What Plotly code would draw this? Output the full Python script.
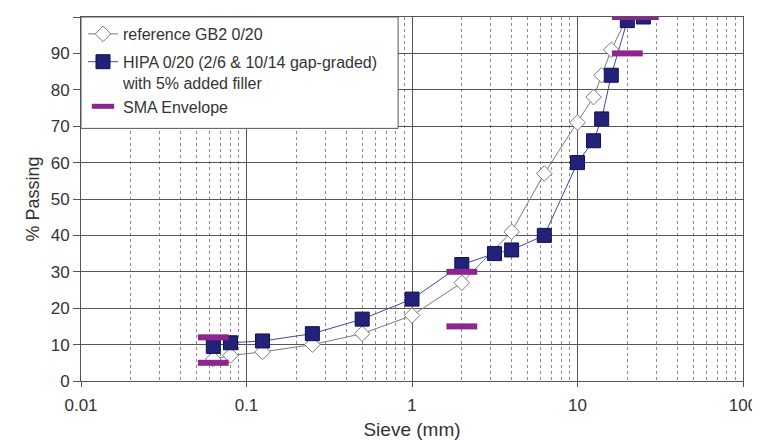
import plotly.graph_objects as go

# ---------------- data ----------------
ref_sieve = [0.063, 0.08, 0.125, 0.25, 0.5, 1, 2, 4, 6.3, 10, 12.5, 14, 16, 20]
ref_pass = [6, 7, 8, 10, 13, 18, 27, 41, 57, 71, 78, 84, 91, 100]

hipa_sieve = [0.063, 0.08, 0.125, 0.25, 0.5, 1, 2, 3.15, 4, 6.3, 10, 12.5, 14, 16, 20, 25]
hipa_pass = [9.5, 10.5, 11, 13, 17, 22.5, 32, 35, 36, 40, 60, 66, 72, 84, 99, 100]

env_sieve = [0.063, 0.063, 2, 2, 20, 20, 25]
env_pass = [5, 12, 15, 30, 90, 100, 100]

x_tickvals = [0.01, 0.1, 1, 10, 100]
x_ticktext = ["0.01", "0.1", "1", "10", "100"]
y_tickvals = [0, 10, 20, 30, 40, 50, 60, 70, 80, 90, 100]

# ---------------- figure ----------------
FONT = "Liberation Sans, Arial, sans-serif"
fig = go.Figure()

fig.add_trace(go.Scatter(
    x=ref_sieve, y=ref_pass, name="reference GB2 0/20",
    mode="lines+markers", legendgroup="a",
    line=dict(color="#7a7a7a", width=1),
    marker=dict(symbol="diamond", size=12, color="white",
                line=dict(color="#7a7a7a", width=1)),
))
fig.add_trace(go.Scatter(
    x=hipa_sieve, y=hipa_pass,
    name="HIPA 0/20 (2/6 & 10/14 gap-graded)<br>with 5% added filler",
    mode="lines+markers", legendgroup="b",
    line=dict(color="#4444a0", width=1),
    marker=dict(symbol="square", size=14, color="#22227a",
                line=dict(color="#101050", width=1)),
))
fig.add_trace(go.Scatter(
    x=env_sieve, y=env_pass, name="SMA Envelope",
    mode="markers", legendgroup="b",
    marker=dict(symbol="line-ew", size=22, color="#8e248e",
                line=dict(color="#8e248e", width=6)),
))

# legend box
fig.add_shape(type="rect", xref="paper", yref="paper",
              x0=0, x1=0.479, y0=0.694, y1=1.0,
              fillcolor="white", line=dict(color="#555", width=1),
              layer="above")

fig.update_layout(
    width=752, height=432,
    margin=dict(l=73, r=17, t=9, b=59),
    paper_bgcolor="white", plot_bgcolor="white",
    font=dict(family=FONT, size=17, color="#333"),
    showlegend=True,
    legend=dict(x=0.003, y=1.0, xanchor="left", yanchor="top",
                bgcolor="rgba(0,0,0,0)", borderwidth=0,
                font=dict(family=FONT, size=16, color="#333"),
                valign="top", traceorder="grouped", tracegroupgap=4,
                itemwidth=30),
    xaxis=dict(
        type="log", range=[-2, 2], automargin=False,
        tickvals=x_tickvals, ticktext=x_ticktext,
        tickfont=dict(family=FONT, size=17, color="#333"),
        showgrid=True, gridcolor="#555", gridwidth=1,
        ticks="outside", ticklen=5, tickcolor="#555",
        ticklabelstandoff=4,
        showline=True, linecolor="#555", mirror=True,
        minor=dict(dtick="D1", showgrid=True, gridcolor="#8a8a8a",
                   griddash="dot", gridwidth=1, ticks=""),
        title=dict(text="Sieve (mm)", font=dict(family=FONT, size=19, color="#333"),
                   standoff=8),
        zeroline=False,
    ),
    yaxis=dict(
        range=[0, 100], tickvals=y_tickvals, automargin=False,
        tickfont=dict(family=FONT, size=17, color="#333"),
        showgrid=True, gridcolor="#555", gridwidth=1,
        ticks="outside", ticklen=7, tickcolor="#555",
        showline=True, linecolor="#555", mirror=True,
        title=dict(text="% Passing", font=dict(family=FONT, size=18, color="#333"),
                   standoff=6),
        zeroline=False,
    ),
)

fig.write_html("out.html")
